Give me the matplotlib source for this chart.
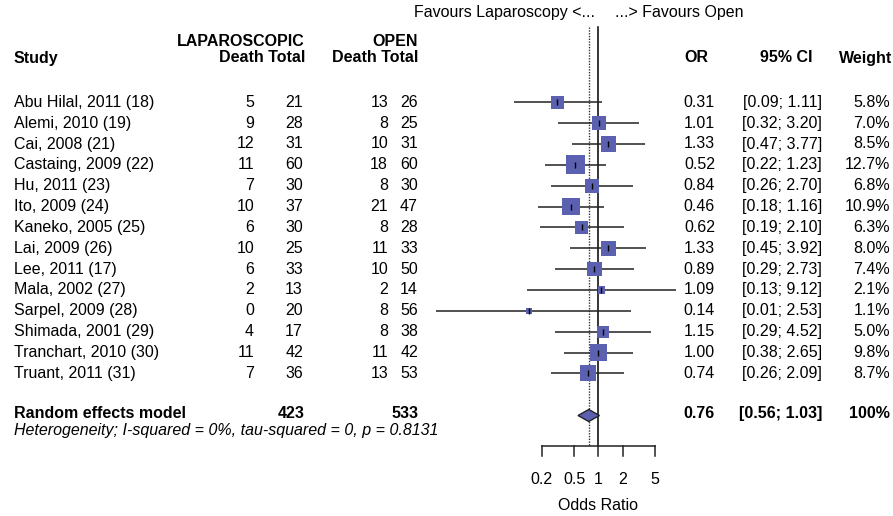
import numpy as np
import matplotlib.pyplot as plt

plt.rcParams['font.family'] = ['Liberation Sans', 'DejaVu Sans']

studies = ['Abu Hilal, 2011 (18)', 'Alemi, 2010 (19)', 'Cai, 2008 (21)', 'Castaing, 2009 (22)',
           'Hu, 2011 (23)', 'Ito, 2009 (24)', 'Kaneko, 2005 (25)', 'Lai, 2009 (26)',
           'Lee, 2011 (17)', 'Mala, 2002 (27)', 'Sarpel, 2009 (28)', 'Shimada, 2001 (29)',
           'Tranchart, 2010 (30)', 'Truant, 2011 (31)']
lap_death = [5, 9, 12, 11, 7, 10, 6, 10, 6, 2, 0, 4, 11, 7]
lap_total = [21, 28, 31, 60, 30, 37, 30, 25, 33, 13, 20, 17, 42, 36]
open_death = [13, 8, 10, 18, 8, 21, 8, 11, 10, 2, 8, 8, 11, 13]
open_total = [26, 25, 31, 60, 30, 47, 28, 33, 50, 14, 56, 38, 42, 53]
odds = [0.31, 1.01, 1.33, 0.52, 0.84, 0.46, 0.62, 1.33, 0.89, 1.09, 0.14, 1.15, 1.00, 0.74]
ci_lo = [0.09, 0.32, 0.47, 0.22, 0.26, 0.18, 0.19, 0.45, 0.29, 0.13, 0.01, 0.29, 0.38, 0.26]
ci_hi = [1.11, 3.20, 3.77, 1.23, 2.70, 1.16, 2.10, 3.92, 2.73, 9.12, 2.53, 4.52, 2.65, 2.09]
weight = [5.8, 7.0, 8.5, 12.7, 6.8, 10.9, 6.3, 8.0, 7.4, 2.1, 1.1, 5.0, 9.8, 8.7]

pooled = 0.76
pooled_lo = 0.56
pooled_hi = 1.03
pooled_lap_total = 423
pooled_open_total = 533
het_text = 'Heterogeneity; I-squared = 0%, tau-squared = 0, p = 0.8131'
xticks = [0.2, 0.5, 1, 2, 5]

W, H = 893, 516
sq_col = '#5c60b0'

fig = plt.figure(figsize=(W / 100, H / 100), dpi=100)

# text layer in pixel coords
tx = fig.add_axes([0, 0, 1, 1])
tx.set_xlim(0, W)
tx.set_ylim(H, 0)
tx.axis('off')

# forest layer, log scale
left_px, right_px = 420, 720
one_px, decade = 598.4, 81.0
ax = fig.add_axes([left_px / W, 0, (right_px - left_px) / W, 1])
ax.set_xscale('log')
ax.set_xlim(10 ** ((left_px - one_px) / decade), 10 ** ((right_px - one_px) / decade))
ax.set_ylim(H, 0)
ax.axis('off')

row0, step = 102.3, 20.85
rows = row0 + step * np.arange(len(studies))
y_sum = 415.5
y_axis = 446
fs = 11.5

# headers
tx.text(14, 58, 'Study', fontsize=fs, fontweight='bold', va='center')
tx.text(305, 41, 'LAPAROSCOPIC', fontsize=fs, fontweight='bold', va='center', ha='right')
tx.text(305, 58, 'Death Total', fontsize=fs, fontweight='bold', va='center', ha='right')
tx.text(418, 41, 'OPEN', fontsize=fs, fontweight='bold', va='center', ha='right')
tx.text(418, 58, 'Death Total', fontsize=fs, fontweight='bold', va='center', ha='right')
tx.text(708, 58, 'OR', fontsize=fs, fontweight='bold', va='center', ha='right')
tx.text(813, 58, '95% CI', fontsize=fs, fontweight='bold', va='center', ha='right')
tx.text(892, 58, 'Weight', fontsize=fs, fontweight='bold', va='center', ha='right')
tx.text(595, 13, 'Favours Laparoscopy <...', fontsize=fs, va='center', ha='right')
tx.text(615, 13, '...> Favours Open', fontsize=fs, va='center', ha='left')

for i, y in enumerate(rows):
    tx.text(14, y, studies[i], fontsize=fs, va='center')
    tx.text(254, y, str(lap_death[i]), fontsize=fs, va='center', ha='right')
    tx.text(303, y, str(lap_total[i]), fontsize=fs, va='center', ha='right')
    tx.text(388, y, str(open_death[i]), fontsize=fs, va='center', ha='right')
    tx.text(418, y, str(open_total[i]), fontsize=fs, va='center', ha='right')
    tx.text(715, y, '%.2f' % odds[i], fontsize=fs, va='center', ha='right')
    tx.text(822, y, '[%.2f; %.2f]' % (ci_lo[i], ci_hi[i]), fontsize=fs, va='center', ha='right')
    tx.text(890, y, '%.1f%%' % weight[i], fontsize=fs, va='center', ha='right')

tx.text(14, y_sum - 2, 'Random effects model', fontsize=fs, fontweight='bold', va='center')
tx.text(305, y_sum - 2, str(pooled_lap_total), fontsize=fs, fontweight='bold', va='center', ha='right')
tx.text(418, y_sum - 2, str(pooled_open_total), fontsize=fs, fontweight='bold', va='center', ha='right')
tx.text(715, y_sum - 2, '%.2f' % pooled, fontsize=fs, fontweight='bold', va='center', ha='right')
tx.text(822, y_sum - 2, '[%.2f; %.2f]' % (pooled_lo, pooled_hi), fontsize=fs, fontweight='bold', va='center', ha='right')
tx.text(890, y_sum - 2, '100%', fontsize=fs, fontweight='bold', va='center', ha='right')
tx.text(14, 431, het_text, fontsize=fs, fontstyle='italic', va='center')

# reference lines
ax.plot([1, 1], [27, y_axis], color='black', lw=1.1, zorder=1)
ax.plot([pooled, pooled], [27, y_axis], color='#333333', lw=1.0, ls=(0, (1, 1)), zorder=1)

# CIs, boxes, point ticks
ax.hlines(rows, ci_lo, ci_hi, color='#222222', lw=1.1, zorder=2)
side_pt = 5.33 * np.sqrt(weight) * 0.72
ax.scatter(odds, rows, marker='s', s=side_pt ** 2, color=sq_col, linewidths=0, zorder=3)
ax.scatter(odds, rows, marker='|', s=25, color='black', linewidths=1.0, zorder=4)

# diamond
h = 6
ax.fill([pooled_lo, pooled, pooled_hi, pooled], [y_sum, y_sum - h, y_sum, y_sum + h],
        facecolor=sq_col, edgecolor='#222222', lw=1.0, zorder=3)

# x axis
ax.plot([xticks[0], xticks[-1]], [y_axis, y_axis], color='#222222', lw=1.1)
for t in xticks:
    ax.plot([t, t], [y_axis, y_axis + 10], color='#222222', lw=1.1)
    ax.text(t, 480, '%g' % t, fontsize=fs, ha='center', va='center')
ax.text(1, 505, 'Odds Ratio', fontsize=fs, ha='center', va='center')

fig.savefig('out.png', dpi=100)
